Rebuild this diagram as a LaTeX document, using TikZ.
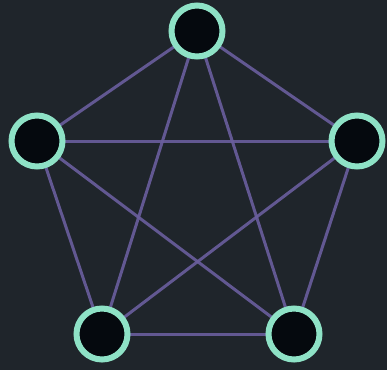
\documentclass[tikz,border=0pt]{standalone}
\definecolor{bg}{HTML}{1F252B}
\definecolor{edgec}{HTML}{6A5E9E}
\definecolor{ring}{HTML}{8EE2C6}
\definecolor{core}{HTML}{05090E}
\begin{document}
\begin{tikzpicture}[x=1pt,y=-1pt,
  vert/.style={circle,draw=ring,fill=core,line width=6pt,minimum size=51pt,inner sep=0pt},
  link/.style={draw=edgec,line width=3pt,opacity=0.9}]
\fill[bg] (0,0) rectangle (387,370);
\useasboundingbox (0,0) rectangle (387,370);
\coordinate (pa) at (197,31);
\coordinate (pb) at (37,141);
\coordinate (pc) at (357,141);
\coordinate (pd) at (102,334);
\coordinate (pe) at (294,334);
\foreach \u/\v in {pa/pb,pa/pc,pa/pd,pa/pe,pb/pc,pb/pd,pb/pe,pc/pd,pc/pe,pd/pe}
  \draw[link] (\u) -- (\v);
\node[vert] (a) at (pa) {};
\node[vert] (b) at (pb) {};
\node[vert] (c) at (pc) {};
\node[vert] (d) at (pd) {};
\node[vert] (e) at (pe) {};
\end{tikzpicture}
\end{document}
